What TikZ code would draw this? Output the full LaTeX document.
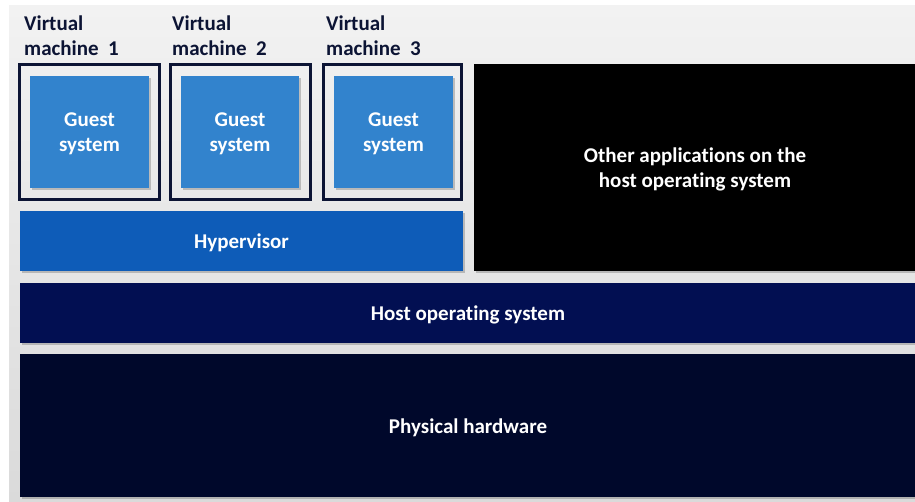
\documentclass[tikz,border=0pt]{standalone}
\usepackage{fontspec}
\setmainfont{Carlito}[Ligatures={NoCommon}]
\usetikzlibrary{shadows}
\definecolor{guestblue}{RGB}{50,131,205}
\definecolor{hyperblue}{RGB}{14,92,184}
\definecolor{hostnavy}{RGB}{2,15,82}
\definecolor{hwnavy}{RGB}{0,8,43}
\definecolor{framenavy}{RGB}{12,20,52}
\definecolor{bgtop}{RGB}{242,242,242}
\definecolor{bgbottom}{RGB}{218,218,218}

\begin{document}
\begin{tikzpicture}[x=1pt,y=-1pt,
  layer/.style={draw=none,drop shadow={shadow xshift=2pt,shadow yshift=-2pt,opacity=0.45}},
  vmframe/.style={draw=framenavy,line width=3pt},
  caption/.style={text=white,font=\bfseries\fontsize{21}{25}\selectfont,align=center,yshift=-2pt},
  vmlabel/.style={text=framenavy,font=\bfseries\fontsize{21}{25}\selectfont,align=left,anchor=north west,inner sep=0pt}]
  \useasboundingbox (0,0) rectangle (915,502);
  \fill[top color=bgtop,bottom color=bgbottom] (9,6) rectangle (915,502);

  % virtual machines
  \node[vmlabel] (vmlabel1) at (24,16) {Virtual\\machine\ \ 1};
  \node[vmlabel] (vmlabel2) at (172,16) {Virtual\\machine\ \ 2};
  \node[vmlabel] (vmlabel3) at (326,16) {Virtual\\machine\ \ 3};
  \draw[vmframe] (19.5,64.5) rectangle (159.5,199.5);
  \draw[vmframe] (170.5,64.5) rectangle (310.5,199.5);
  \draw[vmframe] (323.5,64.5) rectangle (461.5,199.5);
  \draw[layer,fill=guestblue] (30,76) rectangle (149,188) node[midway,caption] (guest1) {Guest\\system};
  \draw[layer,fill=guestblue] (181,76) rectangle (299,188) node[midway,caption] (guest2) {Guest\\system};
  \draw[layer,fill=guestblue] (334,76) rectangle (453,188) node[midway,caption] (guest3) {Guest\\system};

  % layers
  \draw[layer,fill=black] (474,64) rectangle (916,271) node[midway,caption] (otherapps) {Other applications on the\\host operating system};
  \draw[layer,fill=hyperblue] (20,211) rectangle (463,271) node[midway,caption] (hypervisor) {Hypervisor};
  \draw[layer,fill=hostnavy] (20,283) rectangle (916,343) node[midway,caption] (hostos) {Host operating system};
  \draw[layer,fill=hwnavy] (20,354) rectangle (916,497) node[midway,caption] (hardware) {Physical hardware};
\end{tikzpicture}
\end{document}
